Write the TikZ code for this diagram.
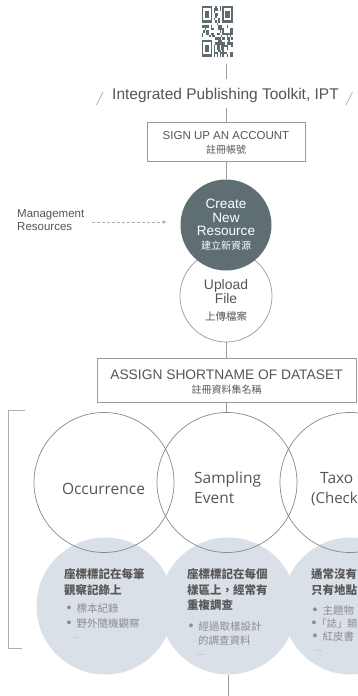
\documentclass[tikz,border=0pt]{standalone}
\usepackage{fontspec}
\setmainfont{Liberation Sans}
\newfontfamily\cjk{Noto Sans CJK TC}
\newfontfamily\opn{Open Sans}
\newfontfamily\lat{Liberation Sans}
\usetikzlibrary{arrows.meta}
\definecolor{txt}{HTML}{555555}
\definecolor{ln}{HTML}{9A9A9A}
\definecolor{dark}{HTML}{5E6E72}
\definecolor{ring}{HTML}{808D91}
\definecolor{pale}{HTML}{D9E0E7}
\definecolor{head}{HTML}{585858}
\definecolor{bul}{HTML}{8C8C8C}
\definecolor{qrc}{HTML}{5F6B6E}
\tikzset{
  conn/.style={draw=ln, line width=0.7pt},
  boxs/.style={draw=ln, line width=0.7pt, fill=white, inner sep=0pt},
  lbl/.style={inner sep=0pt, anchor=base, text=txt},
  lblw/.style={inner sep=0pt, anchor=base west, text=txt},
  wlbl/.style={inner sep=0pt, anchor=base, text=white},
  fillc/.style={circle, fill=pale, minimum size=137pt, inner sep=0pt},
  ringc/.style={circle, draw=ring, line width=0.7pt, minimum size=140pt, inner sep=0pt},
  headt/.style={inner sep=0pt, anchor=base west, text=head, font=\cjk\bfseries\fontsize{11.5}{13}\selectfont},
  bult/.style={inner sep=0pt, anchor=base west, text=bul, font=\cjk\fontsize{10.5}{12}\selectfont},
  dots/.style={inner sep=0pt, anchor=base west, text=bul!80, font=\lat\fontsize{8}{9}\selectfont},
  roundt/.style={inner sep=0pt, text=txt, font=\opn\fontsize{15.5}{18}\selectfont},
  slash/.style={draw=ln, line width=0.6pt},
  dasharr/.style={draw=ln!80, line width=0.6pt, dash pattern=on 3pt off 2pt,
     -{Triangle[length=3.5pt,width=3.5pt]}},
}
\newcommand{\bu}{{\lat\fontsize{14}{14}\selectfont •}\hspace{5pt}}
\begin{document}
\begin{tikzpicture}[x=1pt,y=-1pt]
\clip (0,0) rectangle (358,696);
\fill[white] (0,0) rectangle (358,696);

% QR code
\node[minimum width=31pt, minimum height=51pt, inner sep=0pt] (qr) at (217.5,31.5) {};
\def\qw{1.4762}\def\qh{2.4286}
\begin{scope}[shift={(qr.north west)}]
  \foreach \a/\b in {0/0,14/0,0/14}{
    \fill[qrc] ({\a*\qw},{\b*\qh}) rectangle ++({7*\qw},{7*\qh});
    \fill[white] ({(\a+1)*\qw},{(\b+1)*\qh}) rectangle ++({5*\qw},{5*\qh});
    \fill[qrc] ({(\a+2)*\qw},{(\b+2)*\qh}) rectangle ++({3*\qw},{3*\qh});
  }
  \pgfmathsetseed{11}
  \foreach \i in {0,...,20}{\foreach \j in {0,...,20}{
    \pgfmathtruncatemacro\qin{((\i<8)&&(\j<8))||((\i>12)&&(\j<8))||((\i<8)&&(\j>12))}
    \pgfmathtruncatemacro\qon{rnd<0.5}
    \ifnum\qin=0\relax\ifnum\qon=1\relax
      \fill[qrc] ({\i*\qw},{\j*\qh}) rectangle ++(\qw,\qh);
    \fi\fi
  }}
\end{scope}

% title
\node[lbl, font=\fontsize{15.5}{18}\selectfont] (title) at (225.5,99) {Integrated Publishing Toolkit, IPT};
\draw[slash] ([xshift=-15.5pt,yshift=-6pt]title.base west) -- ++(6.5,-13);
\draw[slash] ([xshift=7pt,yshift=-6pt]title.base east) -- ++(6.5,-13);

% sign up box
\node[boxs, minimum width=158pt, minimum height=39pt] (signup) at (226,141.5) {};
\node[lbl, font=\fontsize{11.5}{13}\selectfont] (signupA) at (226,139.5) {SIGN UP AN ACCOUNT};
\node[lbl, font=\cjk\fontsize{10}{12}\selectfont] (signupB) at (226,153) {註冊帳號};

\draw[conn, shorten <=7pt, shorten >=9pt] (qr.south -| signup.north) -- (title.north -| signup.north);
\draw[conn, shorten <=5.5pt] (title.south -| signup.north) -- (signup.north);

% upload + create circles
\node[circle, draw=ln, fill=white, line width=0.7pt, minimum size=92pt, inner sep=0pt] (upload) at (226,296) {};
\node[circle, fill=dark, minimum size=91pt, inner sep=0pt] (create) at (226,225) {};
\draw[conn] (signup.south) -- (create.north);

\node[wlbl, font=\fontsize{13.6}{15}\selectfont] (createA) at (226,208) {Create};
\node[wlbl, font=\fontsize{13.6}{15}\selectfont] (createB) at (226,222) {New};
\node[wlbl, font=\fontsize{13.6}{15}\selectfont] (createC) at (226,235.5) {Resource};
\node[wlbl, font=\cjk\fontsize{10}{12}\selectfont] (createD) at (226,249) {建立新資源};

\node[lbl, font=\fontsize{13.9}{15}\selectfont] (uploadA) at (226,289) {Upload};
\node[lbl, font=\fontsize{13.9}{15}\selectfont] (uploadB) at (226,303) {File};
\node[lbl, font=\cjk\fontsize{10.5}{12}\selectfont] (uploadC) at (226,320) {上傳檔案};

% management resources
\node[lblw, font=\fontsize{11.5}{13}\selectfont] (mgA) at (17,217) {Management};
\node[lblw, font=\fontsize{11.5}{13}\selectfont] (mgB) at (17,230.5) {Resources};
\coordinate (mgY) at ([yshift=3pt]create.west);
\draw[dasharr, shorten <=7pt, shorten >=14pt] (mgA.east |- mgY) -- (mgY);

% assign box
\node[boxs, minimum width=259pt, minimum height=44pt] (assign) at (226.5,380) {};
\node[lbl, font=\fontsize{13.8}{15}\selectfont] (assignA) at (226.5,379) {ASSIGN SHORTNAME OF DATASET};
\node[lbl, font=\cjk\fontsize{10}{12}\selectfont] (assignB) at (226.5,393) {註冊資料集名稱};
\draw[conn] (upload.south) -- (upload.south |- assign.north);

% bracket
\draw[draw=ln!80, line width=0.7pt] (25,410) -- (8,410) -- (8,648) -- (22,648);

% filled circles
\node[fillc] (occF) at (105,606) {};
\node[fillc] (sampF) at (228,606) {};
\node[fillc] (taxF) at (351,606) {};
% ring circles
\node[ringc] (occ) at (104,482.5) {};
\node[ringc] (samp) at (227,482.5) {};
\node[ringc] (tax) at (350,482.5) {};

\draw[conn] (assign.south) -- (assign.south |- samp.north);
\coordinate (bottomEnd) at (228,698);
\draw[conn] (sampF.south) -- (bottomEnd);

% ring labels
\node[roundt, anchor=base] (occT) at (103.5,494) {Occurrence};
\node[roundt, anchor=base west] (sampT1) at (194,483) {Sampling};
\node[roundt, anchor=base west] (sampT2) at (194,503) {Event};
\node[roundt, anchor=base west] (taxT1) at (320,483) {Taxo};
\node[roundt, anchor=base west, font=\opn\fontsize{15}{18}\selectfont] (taxT2) at (311,503) {(Check};

% occurrence texts
\node[headt] (occH1) at (64,578) {座標標記在每筆};
\node[headt] (occH2) at (64,594) {觀察記錄上};
\node[bult] (occB1) at (66.5,612.5) {\bu 標本紀錄};
\node[bult] (occB2) at (66.5,627) {\bu 野外隨機觀察};
\node[dots] (occD) at (72,638) {...};

% sampling texts
\node[headt] (sampH1) at (187,578) {座標標記在每個};
\node[headt] (sampH2) at (187,594) {樣區上，經常有};
\node[headt] (sampH3) at (187,609.5) {重複調查};
\node[bult] (sampB1) at (188.5,630) {\bu 經過取樣設計};
\node[bult] (sampB2) at (198,644) {的調查資料};
\node[dots] (sampD) at (197,655) {...};

% taxonomy texts
\node[headt] (taxH1) at (311,578) {通常沒有};
\node[headt] (taxH2) at (311,594) {只有地點};
\node[bult] (taxB1) at (312.5,614) {\bu 主題物};
\node[bult, font=\cjk\fontsize{10.2}{12}\selectfont] (taxB2) at (311.5,627) {{\lat\fontsize{14}{14}\selectfont •}「誌」類};
\node[bult] (taxB3) at (312.5,640) {\bu 紅皮書};
\node[dots] (taxD) at (315,651) {...};
\end{tikzpicture}
\end{document}
